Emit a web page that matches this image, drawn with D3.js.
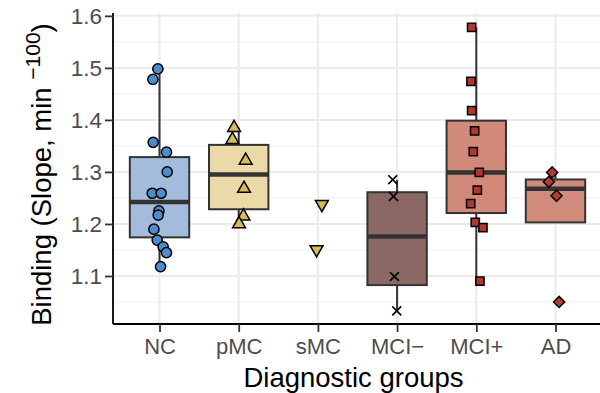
<!DOCTYPE html>
<html>
<head>
<meta charset="utf-8">
<script src="https://cdn.jsdelivr.net/npm/d3@7"></script>
<style>
  body { margin: 0; background: #fff; }
  svg { display: block; font-family: "Liberation Sans", Arial, sans-serif; }
</style>
</head>
<body>
<div id="chart"></div>
<script>
// groups on the x axis
const groups = ["NC", "pMC", "sMC", "MCI\u2212", "MCI+", "AD"];

// binding values per group
const ncValues = [1.498, 1.478, 1.357, 1.338, 1.300, 1.259, 1.259, 1.225, 1.217, 1.190, 1.169, 1.156, 1.145, 1.118];
const pmcValues = [1.385, 1.362, 1.322, 1.268, 1.215, 1.200];
const smcValues = [1.238, 1.151];
const mciNegValues = [1.285, 1.253, 1.099, 1.033];
const mciPosValues = [1.578, 1.474, 1.418, 1.379, 1.339, 1.299, 1.265, 1.239, 1.203, 1.193, 1.090];
const adValues = [1.299, 1.281, 1.254, 1.050];

// horizontal jitter of each point, in category units
const ncJitter = [-0.021, -0.084, -0.080, 0.088, 0.097, -0.092, 0.021, -0.008, -0.017, -0.071, -0.029, 0.046, 0.088, 0.013];
const pmcJitter = [-0.059, -0.080, 0.088, 0.067, 0.059, 0.004];
const smcJitter = [0.050, -0.017];
const mciNegJitter = [-0.055, -0.046, -0.034, -0.004];
const mciPosJitter = [-0.059, -0.067, -0.059, -0.021, -0.038, 0.038, 0.013, -0.071, -0.013, 0.084, 0.046];
const adJitter = [-0.042, -0.084, 0.013, 0.046];

const yTicks = [1.1, 1.2, 1.3, 1.4, 1.5, 1.6];
const yMinor = [1.05, 1.15, 1.25, 1.35, 1.45, 1.55];

const allValues = [ncValues, pmcValues, smcValues, mciNegValues, mciPosValues, adValues];
const allJitter = [ncJitter, pmcJitter, smcJitter, mciNegJitter, mciPosJitter, adJitter];

const boxFill = ["#a3bcdc", "#ebd9a8", "#ebd9a8", "#8b6864", "#d18a79", "#d18b7a"];
const pointFill = ["#4b8ccc", "#d7ba5a", "#d7ba5a", "#000000", "#b2362c", "#b83b31"];

// custom "x" glyph
const symbolCrossX = {
  draw(ctx, size) {
    const r = Math.sqrt(size) / 2;
    ctx.moveTo(-r, -r); ctx.lineTo(r, r);
    ctx.moveTo(r, -r); ctx.lineTo(-r, r);
  }
};
const shapes = [
  { type: d3.symbolCircle, size: 82, rot: 0 },
  { type: d3.symbolTriangle, size: 72, rot: 0 },
  { type: d3.symbolTriangle, size: 72, rot: 180 },
  { type: symbolCrossX, size: 80, rot: 0 },
  { type: d3.symbolSquare, size: 68, rot: 0 },
  { type: d3.symbolSquare, size: 62, rot: 45 }
];

const width = 600, height = 393;
const margin = { top: 13, right: -3, bottom: 69, left: 113 };

const svg = d3.select("#chart").append("svg")
  .attr("width", width)
  .attr("height", height);

const x = d3.scalePoint()
  .domain(groups)
  .range([margin.left - 1, width - margin.right])
  .padding(0.6);
const step = x.step();

const y = d3.scaleLinear()
  .domain([1.0077, 1.6055])
  .range([height - margin.bottom, margin.top]);

const panelTop = margin.top, panelBottom = height - margin.bottom;
const panelLeft = margin.left, panelRight = width;

// grid
const grid = svg.append("g");
grid.selectAll("line.minor").data(yMinor).enter().append("line")
  .attr("x1", panelLeft).attr("x2", panelRight)
  .attr("y1", d => y(d)).attr("y2", d => y(d))
  .attr("stroke", "#f2f2f2").attr("stroke-width", 1.2);
grid.selectAll("line.major").data(yTicks).enter().append("line")
  .attr("x1", panelLeft).attr("x2", panelRight)
  .attr("y1", d => y(d)).attr("y2", d => y(d))
  .attr("stroke", "#ebebeb").attr("stroke-width", 2);
grid.selectAll("line.vert").data(groups).enter().append("line")
  .attr("x1", d => x(d)).attr("x2", d => x(d))
  .attr("y1", panelTop).attr("y2", panelBottom)
  .attr("stroke", "#ebebeb").attr("stroke-width", 2);

// boxplots
const boxW = step * 0.75;
groups.forEach((g, i) => {
  const vals = allValues[i].slice().sort(d3.ascending);
  if (vals.length < 3) return;
  const q1 = d3.quantile(vals, 0.25);
  const med = d3.quantile(vals, 0.5);
  const q3 = d3.quantile(vals, 0.75);
  const iqr = q3 - q1;
  const lo = d3.min(vals.filter(v => v >= q1 - 1.5 * iqr));
  const hi = d3.max(vals.filter(v => v <= q3 + 1.5 * iqr));
  const cx = x(g);
  const b = svg.append("g");
  b.append("line")
    .attr("x1", cx).attr("x2", cx).attr("y1", y(hi)).attr("y2", y(q3))
    .attr("stroke", "#333").attr("stroke-width", 2);
  b.append("line")
    .attr("x1", cx).attr("x2", cx).attr("y1", y(q1)).attr("y2", y(lo))
    .attr("stroke", "#333").attr("stroke-width", 2);
  b.append("rect")
    .attr("x", cx - boxW / 2).attr("width", boxW)
    .attr("y", y(q3)).attr("height", y(q1) - y(q3))
    .attr("fill", boxFill[i]).attr("stroke", "#333").attr("stroke-width", 2);
  b.append("line")
    .attr("x1", cx - boxW / 2).attr("x2", cx + boxW / 2)
    .attr("y1", y(med)).attr("y2", y(med))
    .attr("stroke", "#333").attr("stroke-width", 4.5);
});

// points
groups.forEach((g, i) => {
  const sh = shapes[i];
  const sym = d3.symbol().type(sh.type).size(sh.size);
  svg.append("g").selectAll("path")
    .data(allValues[i].map((v, j) => ({ v, j: allJitter[i][j] })))
    .enter().append("path")
    .attr("d", sym)
    .attr("transform", d => `translate(${x(g) + d.j * step},${y(d.v)}) rotate(${sh.rot})`)
    .attr("fill", sh.type === symbolCrossX ? "none" : pointFill[i])
    .attr("stroke", "#000")
    .attr("stroke-width", sh.type === symbolCrossX ? 1.7 : 1.5);
});

// axes
const yAxis = svg.append("g")
  .attr("transform", `translate(${panelLeft},0)`)
  .call(d3.axisLeft(y).tickValues(yTicks).tickSize(8).tickPadding(3).tickFormat(d3.format(".1f")));
yAxis.select(".domain").attr("d", `M0,${panelTop}V${panelBottom}`).attr("stroke", "#000").attr("stroke-width", 1.8);
yAxis.selectAll(".tick line").attr("stroke", "#333").attr("stroke-width", 1.8);
yAxis.selectAll(".tick text").attr("fill", "#4d4d4d").style("font-size", "22.5px")
  .style("font-family", "Liberation Sans, Arial, sans-serif");

const xAxis = svg.append("g")
  .attr("transform", `translate(0,${panelBottom})`)
  .call(d3.axisBottom(x).tickSize(8).tickPadding(6));
xAxis.select(".domain").attr("d", `M${panelLeft},0H${panelRight}`).attr("stroke", "#000").attr("stroke-width", 1.8);
xAxis.selectAll(".tick line").attr("stroke", "#333").attr("stroke-width", 1.8);
xAxis.selectAll(".tick text").attr("fill", "#4d4d4d").style("font-size", "22px")
  .style("font-family", "Liberation Sans, Arial, sans-serif");

// axis titles
svg.append("text")
  .attr("x", (panelLeft + panelRight) / 2 - 3)
  .attr("y", 387)
  .attr("text-anchor", "middle")
  .style("font-size", "27.5px")
  .text("Diagnostic groups");

const yt = svg.append("text")
  .attr("transform", `translate(51,${(panelTop + panelBottom) / 2 + 6}) rotate(-90)`)
  .attr("text-anchor", "middle")
  .style("font-size", "27.5px");
yt.append("tspan").text("Binding (Slope, min ");
yt.append("tspan").attr("dy", -11).style("font-size", "21px").text("\u2212100");
yt.append("tspan").attr("dy", 11).text(")");
</script>
</body>
</html>
